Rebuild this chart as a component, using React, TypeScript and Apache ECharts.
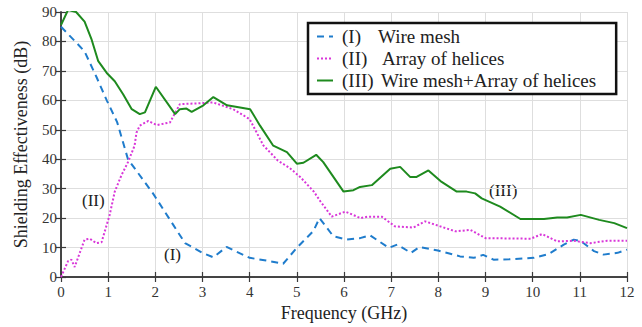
import React, { useEffect, useRef } from "react";
import * as echarts from "echarts";

const freqI = [0, 0.33, 0.5, 0.75, 0.97, 1.19, 1.42, 1.95, 2.38, 2.63, 3.0, 3.23, 3.51, 4.0, 4.35, 4.71, 5.0, 5.35, 5.48, 5.77, 6.06, 6.34, 6.55, 6.95, 7.13, 7.42, 7.6, 7.99, 8.46, 8.75, 8.95, 9.17, 9.5, 10.02, 10.34, 10.66, 10.87, 11.02, 11.3, 11.5, 11.8, 12];
const seI = [85, 79.5, 76.6, 68, 60, 52.6, 40, 28.4, 17.7, 11.5, 8.2, 6.7, 10.2, 6.5, 5.6, 4.5, 9.9, 15.6, 20, 13.9, 12.7, 13.2, 14.2, 9.9, 11, 8.2, 10.2, 9, 7, 6.5, 7.5, 5.9, 6, 6.5, 7.8, 11, 12.7, 12.2, 8.8, 7.6, 8.2, 9.3];

const freqII = [0, 0.15, 0.22, 0.29, 0.5, 0.61, 0.75, 0.86, 1.03, 1.14, 1.28, 1.42, 1.56, 1.6, 1.67, 1.85, 2.03, 2.31, 2.52, 2.94, 3.22, 3.65, 4.0, 4.29, 4.6, 4.85, 5.07, 5.36, 5.5, 5.74, 6.03, 6.35, 6.5, 6.8, 7.08, 7.47, 7.72, 8.04, 8.36, 8.68, 9.0, 9.96, 10.2, 10.52, 10.87, 11.22, 11.58, 12];
const seII = [0, 5.4, 5.9, 3.4, 12.7, 13, 11.5, 11.8, 21, 29, 34.5, 39, 44.6, 49, 51.4, 53, 51.6, 52.5, 58.7, 59, 59.3, 57, 53.6, 44.7, 39.5, 37, 34, 29, 25.7, 20.5, 22.2, 20, 20.5, 20.5, 17.2, 16.8, 18.9, 17.2, 15.5, 16, 13.2, 13, 14.6, 12.1, 12.3, 11.5, 12.3, 12.3];

const freqIII = [0, 0.15, 0.32, 0.5, 0.65, 0.79, 0.97, 1.14, 1.32, 1.5, 1.67, 1.78, 2.01, 2.42, 2.52, 2.66, 2.77, 3.02, 3.23, 3.52, 4.01, 4.22, 4.5, 4.79, 5.0, 5.14, 5.41, 5.56, 5.99, 6.2, 6.34, 6.59, 6.98, 7.19, 7.4, 7.54, 7.79, 8.07, 8.39, 8.6, 8.78, 8.92, 9.31, 9.74, 9.96, 10.24, 10.52, 10.73, 11.02, 11.41, 11.73, 12];
const seIII = [85.6, 90.7, 90, 86.7, 80.6, 73.3, 69.3, 66.5, 62, 57, 55.3, 55.9, 64.6, 55.3, 57, 57.2, 56.1, 58.3, 61.1, 58.3, 57, 51.4, 44.6, 42.4, 38.5, 38.8, 41.5, 39, 29, 29.5, 30.6, 31.2, 36.8, 37.4, 34, 34, 36.2, 32.3, 29, 29, 28.4, 26.7, 23.9, 19.7, 19.7, 19.7, 20.2, 20.2, 21.1, 19.4, 18.3, 16.6];

const seriesNames = ["(I) Wire mesh", "(II) Array of helices", "(III) Wire mesh+Array of helices"];
const legendPrefix = ["(I)", "(II)", "(III)"];
const legendText = ["Wire mesh", "Array of helices", "Wire mesh+Array of helices"];

const FONT = "'Liberation Serif', 'Times New Roman', serif";

function pairs(xs: number[], ys: number[]) {
  return xs.map((x, i) => [x, ys[i]]);
}

export default function App() {
  const ref = useRef<HTMLDivElement>(null);
  useEffect(() => {
    if (!ref.current) return;
    const chart = echarts.init(ref.current, null, { renderer: "svg" });
    const axisColor = "#3a3a3a";
    const baseX = { type: "value", min: 0, max: 12, interval: 1 };
    const baseY = { type: "value", min: 0, max: 90, interval: 10 };
    const tick = { show: true, inside: true, length: 5, lineStyle: { color: axisColor, width: 1.2 } };
    const line = { show: true, lineStyle: { color: axisColor, width: 1.5 } };
    chart.setOption({
      animation: false,
      backgroundColor: "#ffffff",
      textStyle: { fontFamily: FONT },
      grid: { left: 61, right: 15, top: 12, bottom: 48, containLabel: false },
      xAxis: [
        {
          ...baseX,
          position: "bottom",
          name: "Frequency (GHz)",
          nameLocation: "middle",
          nameGap: 27,
          nameTextStyle: { fontFamily: FONT, fontSize: 18, color: "#222" },
          axisLine: line,
          axisTick: tick,
          axisLabel: { fontFamily: FONT, fontSize: 15, color: "#333", margin: 7 },
          splitLine: { show: true, lineStyle: { color: "#dedede", width: 1 } },
        },
        {
          ...baseX,
          position: "top",
          axisLine: line,
          axisTick: tick,
          axisLabel: { show: false },
          splitLine: { show: false },
        },
      ],
      yAxis: [
        {
          ...baseY,
          position: "left",
          name: "Shielding Effectiveness (dB)",
          nameLocation: "middle",
          nameGap: 31,
          nameTextStyle: { fontFamily: FONT, fontSize: 18, color: "#222" },
          axisLine: line,
          axisTick: tick,
          axisLabel: { fontFamily: FONT, fontSize: 15, color: "#333", margin: 4 },
          splitLine: { show: true, lineStyle: { color: "#dedede", width: 1 } },
        },
        {
          ...baseY,
          position: "right",
          axisLine: line,
          axisTick: tick,
          axisLabel: { show: false },
          splitLine: { show: false },
        },
      ],
      legend: {
        show: true,
        orient: "vertical",
        left: 308,
        top: 23,
        padding: [4, 20, 4, 8],
        itemWidth: 16,
        itemHeight: 18,
        itemGap: 3,
        borderColor: "#111",
        borderWidth: 2.5,
        backgroundColor: "#fff",
        data: seriesNames,
        itemStyle: { opacity: 0 },
        formatter: (name: string) => {
          const i = seriesNames.indexOf(name);
          return `{p${i}|${legendPrefix[i]}}{t|${legendText[i]}}`;
        },
        textStyle: {
          fontFamily: FONT,
          fontSize: 19,
          color: "#222",
          padding: [0, 0, 0, 4],
          rich: {
            p0: { fontFamily: FONT, fontSize: 19, color: "#222", width: 36 },
            p1: { fontFamily: FONT, fontSize: 19, color: "#222", width: 40 },
            p2: { fontFamily: FONT, fontSize: 19, color: "#222", width: 39 },
            t: { fontFamily: FONT, fontSize: 19, color: "#222" },
          },
        },
      },
      series: [
        {
          name: seriesNames[0],
          type: "line",
          data: pairs(freqI, seI),
          symbol: "none",
          lineStyle: { color: "#1f7ccc", width: 2, type: [7, 5] },
          itemStyle: { color: "#1f7ccc" },
        },
        {
          name: seriesNames[1],
          type: "line",
          data: pairs(freqII, seII),
          symbol: "none",
          lineStyle: { color: "#d936d9", width: 2, type: [2, 2] },
          itemStyle: { color: "#d936d9" },
        },
        {
          name: seriesNames[2],
          type: "line",
          data: pairs(freqIII, seIII),
          symbol: "none",
          lineStyle: { color: "#1e8a1e", width: 2, type: "solid" },
          itemStyle: { color: "#1e8a1e" },
        },
      ],
      graphic: [
        { type: "text", left: 82, top: 192, style: { text: "(II)", fontFamily: FONT, fontSize: 17, fill: "#222" } },
        { type: "text", left: 164, top: 246, style: { text: "(I)", fontFamily: FONT, fontSize: 17, fill: "#222" } },
        { type: "text", left: 489, top: 182, style: { text: "(III)", fontFamily: FONT, fontSize: 17, fill: "#222" } },
      ],
    });
    return () => chart.dispose();
  }, []);
  return (
    <div
      ref={ref}
      style={{ position: "fixed", left: 0, top: 0, width: 642, height: 327 }}
    />
  );
}
